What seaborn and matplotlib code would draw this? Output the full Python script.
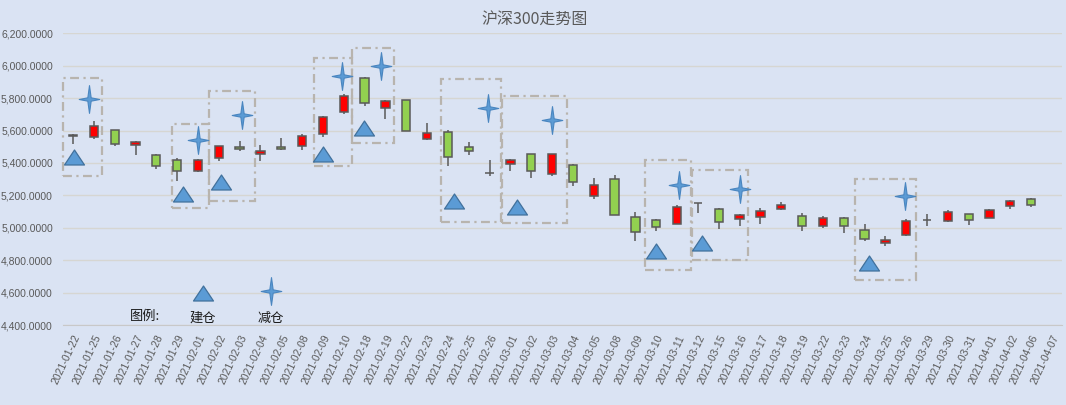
import numpy as np
import pandas as pd
import matplotlib
matplotlib.use("Agg")
import matplotlib.pyplot as plt
from matplotlib.path import Path
from matplotlib.patches import Rectangle
import seaborn as sns

# ---------------- data ----------------
dates = ["2021-01-22", "2021-01-25", "2021-01-26", "2021-01-27", "2021-01-28", "2021-01-29",
         "2021-02-01", "2021-02-02", "2021-02-03", "2021-02-04", "2021-02-05", "2021-02-08",
         "2021-02-09", "2021-02-10", "2021-02-18", "2021-02-19", "2021-02-22", "2021-02-23",
         "2021-02-24", "2021-02-25", "2021-02-26", "2021-03-01", "2021-03-02", "2021-03-03",
         "2021-03-04", "2021-03-05", "2021-03-08", "2021-03-09", "2021-03-10", "2021-03-11",
         "2021-03-12", "2021-03-15", "2021-03-16", "2021-03-17", "2021-03-18", "2021-03-19",
         "2021-03-22", "2021-03-23", "2021-03-24", "2021-03-25", "2021-03-26", "2021-03-29",
         "2021-03-30", "2021-03-31", "2021-04-01", "2021-04-02", "2021-04-06", "2021-04-07"]

open_ = [5570, 5563, 5604, 5510, 5452, 5417, 5353, 5429, 5499, 5454, 5499, 5507,
         5581, 5713, 5923, 5738, 5787, 5547, 5590, 5497, 5341, 5392, 5454, 5331,
         5386, 5195, 5300, 5066, 5047, 5023, 5152, 5115, 5053, 5066, 5115, 5072,
         5010, 5059, 4985, 4905, 4953, 5049, 5039, 5084, 5059, 5133, 5177, np.nan]
close = [5567, 5625, 5516, 5528, 5380, 5353, 5417, 5503, 5485, 5475, 5485, 5565,
         5686, 5812, 5768, 5783, 5596, 5583, 5436, 5473, 5341, 5419, 5349, 5454,
         5281, 5263, 5078, 4973, 5004, 5127, 5152, 5035, 5078, 5103, 5140, 5010,
         5059, 5010, 4930, 4924, 5041, 5049, 5096, 5047, 5109, 5164, 5140, np.nan]
high = [5577, 5660, 5606, 5536, 5456, 5431, 5423, 5505, 5534, 5510, 5555, 5579,
        5690, 5826, 5933, 5789, 5788, 5645, 5602, 5528, 5417, 5425, 5455, 5456,
        5392, 5306, 5325, 5098, 5055, 5138, 5153, 5121, 5084, 5119, 5158, 5092,
        5072, 5068, 5025, 4949, 5053, 5084, 5107, 5085, 5115, 5173, 5183, np.nan]
low = [5518, 5547, 5507, 5450, 5362, 5288, 5343, 5411, 5473, 5411, 5479, 5479,
       5559, 5705, 5752, 5672, 5595, 5540, 5382, 5448, 5320, 5349, 5308, 5320,
       5257, 5177, 5076, 4918, 4979, 5022, 5090, 4992, 5010, 5025, 5109, 4979,
       4998, 4967, 4918, 4887, 4952, 5010, 5035, 5016, 5058, 5115, 5127, np.nan]

# 建仓 (open position) markers: category position, price
build_x = [0.05, 5.27, 7.09, 12.0, 13.97, 18.29, 21.3, 28.0, 30.2, 38.2]
build_y = [5438, 5210, 5284, 5458, 5615, 5166, 5127, 4855, 4909, 4784]
# 减仓 (reduce position) markers
reduce_x = [0.78, 6.0, 8.1, 12.9, 14.8, 19.94, 23.0, 29.1, 32.0, 39.96]
reduce_y = [5795, 5542, 5694, 5938, 5996, 5737, 5663, 5266, 5240, 5196]

# dash-dot highlight boxes
box_left = [-0.5, 4.74, 6.53, 11.57, 13.39, 17.67, 20.58, 27.48, 29.7, 37.54]
box_right = [1.39, 6.54, 8.74, 13.4, 15.41, 20.55, 23.7, 29.65, 32.4, 40.46]
box_low = [5320, 5120, 5165, 5382, 5525, 5036, 5031, 4739, 4801, 4678]
box_high = [5924, 5642, 5842, 6050, 6111, 5920, 5813, 5416, 5356, 5303]

title = "沪深300走势图"
legend_title = "图例:"
legend_labels = ["建仓", "减仓"]
y_ticks = list(range(4400, 6201, 200))

df = pd.DataFrame({"date": dates, "open": open_, "close": close, "high": high, "low": low})
df["pos"] = np.arange(len(df))

# ---------------- style ----------------
sns.set_theme(style="white")
plt.rcParams["font.family"] = ["Liberation Sans", "Noto Sans CJK SC", "DejaVu Sans"]
cjk = ["Noto Sans CJK SC", "DejaVu Sans"]

BG = "#DAE3F3"
GRID = "#D6D6D2"
TXT = "#595959"
EDGE = "#595959"
RED = "#FF0000"
GREEN = "#92D050"
BLUE = "#5B9BD5"
BLUE_EDGE = "#41719C"

W, H = 1066, 405
fig = plt.figure(figsize=(W / 100, H / 100), dpi=100, facecolor=BG)
ax = fig.add_axes([62.6 / W, 1 - 325 / H, (1062.4 - 62.6) / W, (325 - 33.3) / H])
ax.set_facecolor(BG)

# candles
valid = df.dropna()
ax.vlines(valid["pos"], valid["low"], valid["high"], color=EDGE, lw=1.1, zorder=3)
colors = [RED if c > o else GREEN for o, c in zip(valid["open"], valid["close"])]
ax.bar(valid["pos"], valid["close"] - valid["open"], bottom=valid["open"], width=0.4,
       color=colors, edgecolor=EDGE, linewidth=1.1, zorder=4)

# highlight boxes
for l, r, b, t in zip(box_left, box_right, box_low, box_high):
    ax.add_patch(Rectangle((l, b), r - l, t - b, fill=False, edgecolor="#B8B4AE",
                           linewidth=1.6, linestyle=(0, (4, 2, 1, 2)), zorder=2,
                           clip_on=False))

# markers
tri = Path([(-1, -0.75), (1, -0.75), (0, 0.75), (-1, -0.75)],
           [Path.MOVETO, Path.LINETO, Path.LINETO, Path.CLOSEPOLY])
a, b_ = 0.12, 0.74
star = Path([(0, 1), (a, a), (b_, 0), (a, -a), (0, -1), (-a, -a), (-b_, 0), (-a, a), (0, 1)],
            [Path.MOVETO] + [Path.LINETO] * 7 + [Path.CLOSEPOLY])

sns.scatterplot(x=build_x, y=build_y, marker=tri, s=207, color=BLUE,
                edgecolor=BLUE_EDGE, linewidth=0.9, ax=ax, zorder=5, legend=False)
sns.scatterplot(x=reduce_x, y=reduce_y, marker=star, s=400, color=BLUE,
                edgecolor="#4A86C0", linewidth=0.8, ax=ax, zorder=5, legend=False)

# hand-made legend (marker above label)
leg_x = [6.24, 9.5]
leg_marker_y = [4597, 4612]
ax.scatter([leg_x[0]], [leg_marker_y[0]], marker=tri, s=207, color=BLUE,
           edgecolor=BLUE_EDGE, linewidth=0.9, zorder=5)
ax.scatter([leg_x[1]], [leg_marker_y[1]], marker=star, s=400, color=BLUE,
           edgecolor="#4A86C0", linewidth=0.8, zorder=5)
for xx, lab in zip(leg_x, legend_labels):
    ax.text(xx, 4443, lab, ha="center", va="center", fontsize=9.5, color="#1A1A1A",
            family=cjk, zorder=6)
ax.text(3.46, 4455, legend_title, ha="center", va="center", fontsize=9.5,
        color="#1A1A1A", family=cjk, zorder=6)

# axes
ax.set_xlim(-0.5, len(dates) - 0.5)
ax.set_ylim(y_ticks[0], y_ticks[-1])
ax.set_yticks(y_ticks)
ax.set_yticklabels([f"{v:,.4f}" for v in y_ticks])
ax.yaxis.grid(True, color=GRID, linewidth=1.0, zorder=0)
ax.set_axisbelow(True)
ax.set_xticks(df["pos"])
ax.set_xticklabels(dates, rotation=65, ha="right", va="top", rotation_mode="anchor")
ax.set_xticks(np.arange(-0.5, len(dates), 1.0), minor=True)
ax.tick_params(axis="x", which="major", length=0, pad=6, labelsize=7.5, labelcolor=TXT)
ax.tick_params(axis="x", which="minor", length=3.5, width=0.8, color="#C8C8C8", direction="out")
ax.tick_params(axis="y", length=0, pad=7, labelsize=7.5, labelcolor=TXT)
for s in ["left", "right", "top"]:
    ax.spines[s].set_visible(False)
ax.spines["bottom"].set_color("#C8C8C8")
ax.spines["bottom"].set_linewidth(0.8)
ax.set_xlabel("")
ax.set_ylabel("")

fig.text(535 / W, 1 - 20 / H, title, ha="center", va="center", fontsize=11.5,
         color=TXT, family=cjk)

fig.savefig("out.png", dpi=100, facecolor=BG)
